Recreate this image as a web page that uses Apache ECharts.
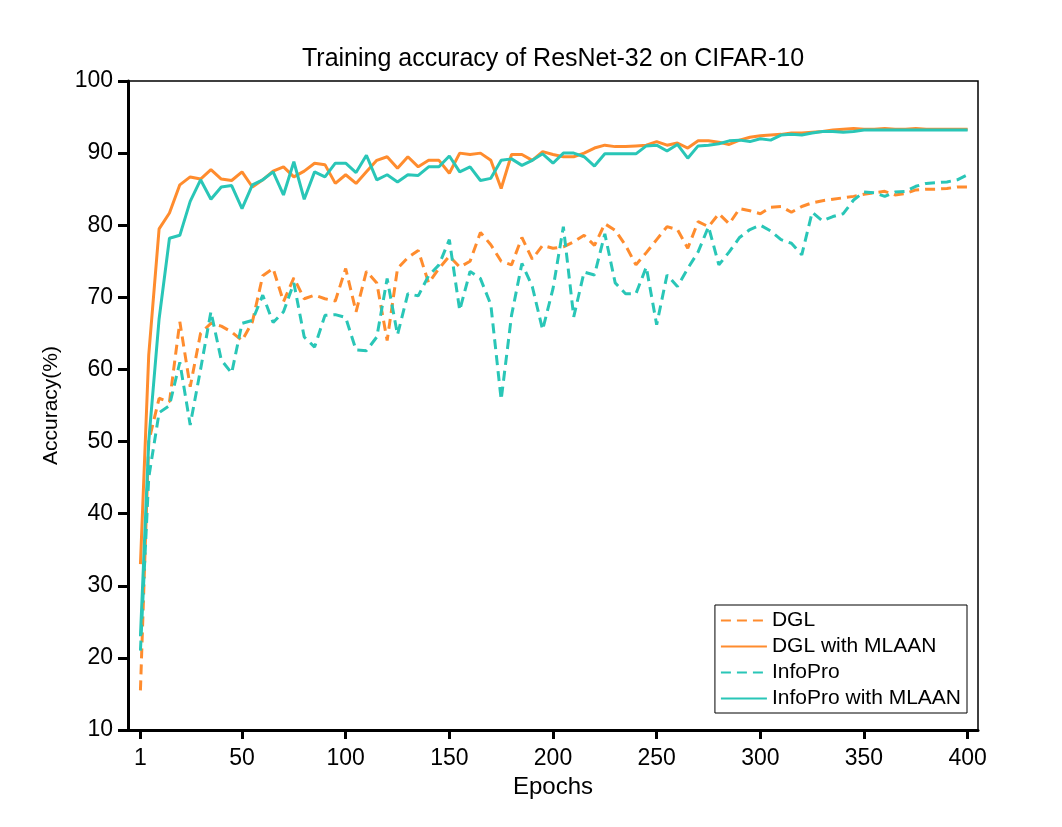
<!DOCTYPE html>
<html>
<head>
<meta charset="utf-8">
<script src="https://cdn.jsdelivr.net/npm/echarts@6/dist/echarts.min.js"></script>
<style>
html,body{margin:0;padding:0;background:#fff;}
#chart{width:1062px;height:827px;}
</style>
</head>
<body>
<div id="chart"></div>
<script>
const epochs = [1,5,10,15,20,25,30,35,40,45,50,55,60,65,70,75,80,85,90,95,100,
  105,110,115,120,125,130,135,140,145,150,155,160,165,170,175,180,185,190,195,200,
  205,210,215,220,225,230,235,240,245,250,255,260,265,270,275,280,285,290,295,300,
  305,310,315,320,325,330,335,340,345,350,355,360,365,370,375,380,385,390,395,400];

const dgl = [15.5,50,56,55.5,66.6,57.6,65,66.4,66,65.2,64,66.6,73,74,69.4,72.7,69.8,70.3,69.8,69.5,74,
  68,73.6,72,64,74,75.5,76.5,72,74,75.7,74.2,75,79,77.3,75,74.5,78.3,75.3,77.2,76.8,
  77,77.7,78.6,77.2,80.2,79.3,77.2,74.5,76.2,78,79.8,79.4,76.8,80.5,79.8,81.6,80.2,82.3,82,81.6,
  82.5,82.6,81.8,82.6,83.1,83.4,83.6,83.8,84,84.3,84.5,84.7,84.2,84.4,84.9,85,85,85.1,85.3,85.3];

const dglMlaan = [33,62,79.5,81.7,85.6,86.7,86.4,87.7,86.4,86.2,87.4,85.3,86.3,87.5,88.1,86.7,87.5,88.6,88.4,85.8,87,
  85.8,87.4,89,89.5,87.9,89.5,88.1,89,89,87.2,90,89.8,90,89,85.1,89.8,89.8,89,90.2,89.8,
  89.5,89.5,90,90.7,91.1,90.9,90.9,91,91.1,91.6,91.1,91.4,90.7,91.7,91.7,91.5,91.2,91.8,92.2,92.4,
  92.5,92.6,92.8,92.8,92.9,93,93.2,93.3,93.4,93.3,93.3,93.4,93.3,93.3,93.4,93.3,93.3,93.3,93.3,93.3];

const infoPro = [21,45,54,55,61,52.3,60,68,61.3,59.5,66.4,66.8,70.3,66.5,68,72,64.5,63.1,67.5,67.6,67.2,
  62.7,62.6,64.5,72.6,64.8,70.5,70.2,73,74.5,78,68.2,73.6,72.6,69,55.8,67.5,74.7,71.5,65.5,71.2,
  79.8,67.3,73.5,73.1,78.8,72,70.5,70.5,74.2,66.2,73.1,71.5,74,76.3,79.8,74.5,76.3,78.3,79.4,80,
  79.2,78,77.5,75.9,81.8,80.6,81.2,81.6,83.5,84.6,84.5,84,84.6,84.7,85.4,85.8,85.9,86,86.3,87];

const infoProMlaan = [23,50,67,78.2,78.6,83.3,86.3,83.6,85.3,85.5,82.3,85.6,86.3,87.4,84.2,88.8,83.6,87.4,86.7,88.6,88.6,
  87.3,89.7,86.3,87,86,87,86.9,88.1,88.1,89.6,87.4,88.1,86.2,86.5,89,89.2,88.3,89,89.9,88.6,
  90,90,89.5,88.2,89.9,89.9,89.9,89.9,91,91.1,90.3,91.2,89.3,91,91.1,91.3,91.7,91.8,91.6,92,
  91.8,92.5,92.6,92.5,92.8,93,93,92.9,93,93.2,93.2,93.2,93.2,93.2,93.2,93.2,93.2,93.2,93.2,93.2];

const xTicks = [1,50,100,150,200,250,300,350,400];
const seriesNames = ['DGL','DGL with MLAAN','InfoPro','InfoPro with MLAAN'];

const ORANGE = '#FF8C2E';
const TEAL = '#29C6B7';
const FONT = '"Liberation Sans", Arial, sans-serif';

function pairs(vals){ return epochs.map((e,i)=>[e, vals[i]]); }

const chart = echarts.init(document.getElementById('chart'));
chart.setOption({
  animation: false,
  backgroundColor: '#fff',
  title: {
    text: 'Training accuracy of ResNet-32 on CIFAR-10',
    left: 548, textAlign: 'center', top: 42,
    textStyle: {fontFamily: FONT, fontSize: 25, fontWeight: 'normal', color: '#000'}
  },
  grid: {
    left: 128, right: 84, top: 81, bottom: 97,
    show: true, borderColor: '#000', borderWidth: 1.5, backgroundColor: 'transparent'
  },
  legend: {
    orient: 'vertical', right: 95, bottom: 114,
    data: seriesNames,
    itemWidth: 46, itemHeight: 14, itemGap: 5,
    padding: [5, 6, 4, 5],
    borderColor: '#000', borderWidth: 1, borderRadius: 0,
    backgroundColor: '#fff',
    itemStyle: {opacity: 0},
    textStyle: {fontFamily: FONT, fontSize: 21, color: '#000'}
  },
  xAxis: {
    type: 'value', min: -5, max: 405,
    name: 'Epochs', nameLocation: 'middle', nameGap: 45,
    nameTextStyle: {fontFamily: FONT, fontSize: 24, color: '#000'},
    axisLine: {show: true, onZero: false, lineStyle: {color: '#000', width: 3}},
    axisTick: {show: true, length: 9, lineStyle: {color: '#000', width: 3}, customValues: xTicks},
    axisLabel: {fontFamily: FONT, fontSize: 23, color: '#000', margin: 17, customValues: xTicks},
    splitLine: {show: false}
  },
  yAxis: {
    type: 'value', min: 10, max: 100, interval: 10,
    name: 'Accuracy(%)', nameLocation: 'middle', nameGap: 66, nameRotate: 90,
    nameTextStyle: {fontFamily: FONT, fontSize: 21, color: '#000'},
    axisLine: {show: true, onZero: false, lineStyle: {color: '#000', width: 3}},
    axisTick: {show: true, length: 10, lineStyle: {color: '#000', width: 3}},
    axisLabel: {fontFamily: FONT, fontSize: 23, color: '#000', margin: 15},
    splitLine: {show: false}
  },
  series: [
    {name: seriesNames[0], type: 'line', data: pairs(dgl), showSymbol: false, symbol: 'none',
     lineStyle: {color: ORANGE, width: 3, type: [10, 6]}, itemStyle: {color: ORANGE}},
    {name: seriesNames[1], type: 'line', data: pairs(dglMlaan), showSymbol: false, symbol: 'none',
     lineStyle: {color: ORANGE, width: 3}, itemStyle: {color: ORANGE}},
    {name: seriesNames[2], type: 'line', data: pairs(infoPro), showSymbol: false, symbol: 'none',
     lineStyle: {color: TEAL, width: 3, type: [10, 6]}, itemStyle: {color: TEAL}},
    {name: seriesNames[3], type: 'line', data: pairs(infoProMlaan), showSymbol: false, symbol: 'none',
     lineStyle: {color: TEAL, width: 3}, itemStyle: {color: TEAL}}
  ]
});
</script>
</body>
</html>
